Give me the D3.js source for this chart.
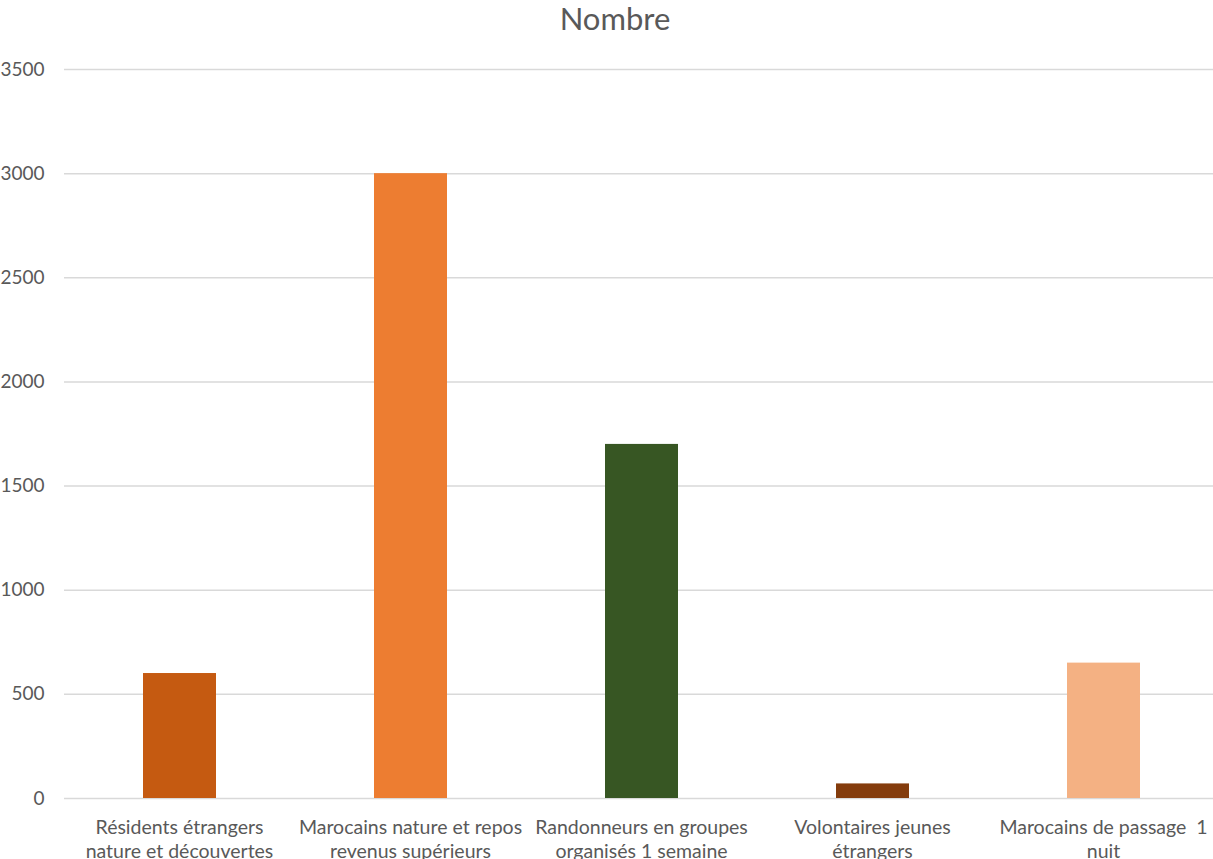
<!DOCTYPE html>
<html>
<head>
<meta charset="utf-8">
<script src="https://cdn.jsdelivr.net/npm/d3@7"></script>
<style>
  html, body { margin: 0; padding: 0; background: #fff; }
  svg { display: block; }
  text { font-family: Lato, "Open Sans", sans-serif; fill: #595959; white-space: pre; }
</style>
</head>
<body>
<svg id="chart" width="1213" height="859"></svg>
<script>
// Categories, values and colours of the bar chart
const categories = [
  "Résidents étrangers nature et découvertes",
  "Marocains nature et repos revenus supérieurs",
  "Randonneurs en groupes organisés 1 semaine",
  "Volontaires jeunes étrangers",
  "Marocains de passage  1 nuit"
];
const categoryLines = [
  ["Résidents étrangers", "nature et découvertes"],
  ["Marocains nature et repos", "revenus supérieurs"],
  ["Randonneurs en groupes", "organisés 1 semaine"],
  ["Volontaires jeunes", "étrangers"],
  ["Marocains de passage  1", "nuit"]
];
const values = [600, 3000, 1700, 70, 650];
const barColors = ["#C55A11", "#ED7D31", "#375623", "#843C0C", "#F4B183"];
const yTicks = [0, 500, 1000, 1500, 2000, 2500, 3000, 3500];
const title = "Nombre";

const svg = d3.select("#chart");
const margin = { left: 64, right: -6, top: 69, bottom: 61 };
const W = 1213, H = 859;

const x = d3.scaleBand()
  .domain(categories)
  .range([margin.left, W - margin.right])
  .paddingInner(0.684)
  .paddingOuter(0.342);

const y = d3.scaleLinear()
  .domain([0, 3500])
  .range([H - margin.bottom, margin.top]);

// Title
svg.append("text")
  .attr("x", 615)
  .attr("y", 30)
  .attr("text-anchor", "middle")
  .style("font-size", "31px")
  .text(title);

// Horizontal gridlines and y tick labels
const yAxis = d3.axisLeft(y)
  .tickValues(yTicks)
  .tickSize(-(W - margin.right - margin.left))
  .tickPadding(19.5)
  .tickFormat(d3.format("d"));

const gy = svg.append("g")
  .attr("transform", `translate(${margin.left},0)`)
  .call(yAxis);
gy.select(".domain").remove();
gy.selectAll(".tick line")
  .attr("stroke", "#D9D9D9")
  .attr("stroke-width", 1.5);
gy.selectAll(".tick text")
  .style("font-size", "19px")
  .style("fill", "#595959")
  .style("font-family", "Lato, 'Open Sans', sans-serif");

// Bars
svg.append("g")
  .selectAll("rect")
  .data(values)
  .join("rect")
  .attr("x", (d, i) => x(categories[i]))
  .attr("width", x.bandwidth())
  .attr("y", d => y(d))
  .attr("height", d => y(0) - y(d))
  .attr("fill", (d, i) => barColors[i]);

// Category labels (two lines each)
const gx = svg.append("g");
categories.forEach((c, i) => {
  const cx = x(c) + x.bandwidth() / 2;
  const t = gx.append("text")
    .attr("x", cx)
    .attr("y", 834)
    .attr("text-anchor", "middle")
    .style("font-size", "19.5px");
  categoryLines[i].forEach((line, j) => {
    t.append("tspan")
      .attr("x", cx)
      .attr("dy", j === 0 ? 0 : 24)
      .text(line);
  });
});
</script>
</body>
</html>
